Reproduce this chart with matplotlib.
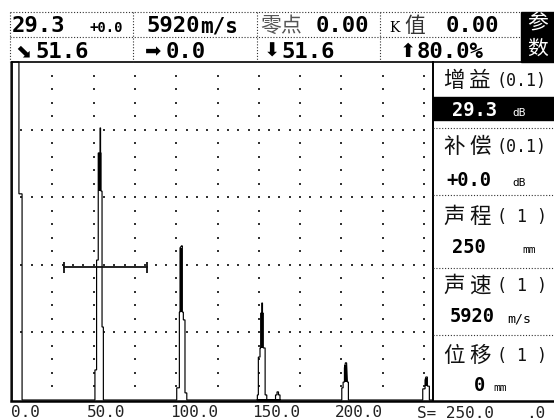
import numpy as np
import matplotlib.pyplot as plt
from matplotlib.patches import Rectangle

# A扫描波形: 声程(mm) / 波高(%) , 从屏幕读取
pulse_mm = [0, 0, 4.8, 4.8, 6.7, 6.7]
pulse_amp = [0, 100, 100, 61, 61, 0]

echo1_mm = [50.8, 50.8, 51.8, 51.8, 52.8, 52.8, 53.9, 53.9, 54.2, 54.2, 54.5, 54.5, 55.1, 55.1, 55.9, 55.9]
echo1_amp = [0, 8.9, 8.9, 41.4, 41.4, 73.1, 73.1, 80.5, 80.5, 73.1, 73.1, 61.8, 61.8, 21.6, 21.6, 0]

echo2_mm = [100.3, 100.3, 101.9, 101.9, 102.3, 102.3, 103.2, 103.7, 103.7, 104.3, 104.3, 105.3, 105.3, 106.4, 106.4]
echo2_amp = [0, 3.6, 3.6, 26.0, 26.0, 45.0, 45.6, 45.6, 26.0, 26.0, 23.7, 23.7, 2.1, 2.1, 0]

echo3_mm = [149.1, 149.1, 149.7, 149.7, 150.7, 150.7, 151.1, 151.1, 151.8, 151.8, 152.2, 152.2,
            152.7, 152.7, 153.8, 153.8, 154.8, 154.8]
echo3_amp = [0, 1.5, 1.5, 12.7, 12.7, 15.4, 15.4, 25.7, 25.7, 28.7, 28.7, 25.7,
             25.7, 15.4, 15.4, 1.5, 1.5, 0]

bump_mm = [160.1, 160.1, 161.0, 161.0, 161.9, 161.9, 162.8, 162.8]
bump_amp = [0, 1.5, 1.5, 2.4, 2.4, 1.5, 1.5, 0]

echo4_mm = [200.2, 200.2, 201.0, 201.0, 201.8, 201.8, 202.4, 203.1, 203.6, 203.6, 204.2, 204.2]
echo4_amp = [0, 3.6, 3.6, 5.3, 5.3, 9.5, 11.0, 11.0, 5.3, 5.3, 5.3, 0]

echo5_mm = [249.2, 249.2, 250.6, 250.6, 251.1, 252.0, 252.0, 253.2, 253.2]
echo5_amp = [0, 3.3, 3.3, 5.9, 6.8, 6.8, 4.1, 4.1, 0]

# 回波中间密集(涂黑)部分
core_left = [52.8, 102.3, 151.1, 201.8, 250.6]
core_right = [54.5, 103.7, 152.7, 203.6, 252.0]
core_low = [61.8, 26.0, 15.4, 5.3, 4.1]
core_high = [73.1, 45.0, 25.7, 10.5, 6.5]

range_end = 254.8
gate_start, gate_end, gate_level = 32.1, 82.3, 39.3

x_ticks = [0, 50, 100, 150, 200]
x_tick_labels = ['0.0', '50.0', '100.0', '150.0', '200.0']

W, H = 554, 420
fig = plt.figure(figsize=(W / 100, H / 100), dpi=100)


def box(x0, y0, x1, y1):
    return [x0 / W, 1 - y1 / H, (x1 - x0) / W, (y1 - y0) / H]


ax = fig.add_axes(box(11, 62, 432, 400))
ax.set_xlim(0, range_end)
ax.set_ylim(0, 100)
ax.set_xticks([])
ax.set_yticks([])
for s in ax.spines.values():
    s.set_visible(False)

# 点状网格
cx, cy = np.meshgrid(np.arange(25, 251, 25), np.arange(4, 100, 4))
ax.scatter(cx.ravel(), cy.ravel(), s=1.6, marker='s', color='#333', linewidths=0)
rx, ry = np.meshgrid(np.arange(6.25, 250.1, 6.25), [20, 40, 60, 80])
ax.scatter(rx.ravel(), ry.ravel(), s=1.6, marker='s', color='#333', linewidths=0)

trace_mm = pulse_mm + echo1_mm + echo2_mm + bump_mm + echo3_mm + echo4_mm + echo5_mm + [range_end]
trace_amp = pulse_amp + echo1_amp + echo2_amp + bump_amp + echo3_amp + echo4_amp + echo5_amp + [0]
ax.plot(trace_mm, trace_amp, color='black', lw=0.85, clip_on=False, solid_joinstyle='miter')
ax.bar(core_left, np.subtract(core_high, core_low), width=np.subtract(core_right, core_left),
       bottom=core_low, align='edge', color='black', linewidth=0)

# 闸门
ax.plot([gate_start, gate_end], [gate_level, gate_level], color='#111', lw=1.3)
ax.vlines([gate_start, gate_end], gate_level - 1.6, gate_level + 1.6, color='#111', lw=1.3)

mono = 'DejaVu Sans Mono'
cjk = ['Noto Sans CJK SC', 'DejaVu Sans']
for v, lab in zip(x_ticks, x_tick_labels):
    ax.text(max(v - 4, 0), -3.8, lab, ha='left', va='center',
            family=mono, fontsize=11.5, color='#222', clip_on=False)

# 外框与界面
ov = fig.add_axes([0, 0, 1, 1], zorder=5)
ov.set_xlim(0, W)
ov.set_ylim(H, 0)
ov.axis('off')
ov.patch.set_alpha(0)

ov.plot([12, 12], [62, 401], color='black', lw=1.3)
ov.plot([12, 554], [62, 62], color='black', lw=1.2)
ov.plot([432.5, 432.5], [62, 401], color='black', lw=1.4)
ov.plot([11, 554], [400.5, 400.5], color='black', lw=1.8)

dot = dict(color='#333', lw=0.8, ls=(0, (1, 1.6)))
ov.plot([10, 520], [12, 12], **dot)
ov.plot([10, 520], [37, 37], **dot)
for x in [10, 133, 257, 380]:
    ov.plot([x, x], [12, 62], **dot)
ov.add_patch(Rectangle((521, 12), 33, 50, color='black'))
ov.text(537.5, 24, '参', family=cjk, fontsize=15, color='white', ha='center', va='center')
ov.text(537.5, 49, '数', family=cjk, fontsize=15, color='white', ha='center', va='center')

big = dict(family=mono, fontweight='bold', fontsize=16, va='baseline', color='black')
ov.text(12, 32, '29.3', **big)
ov.text(90, 32, '+0.0', family=mono, fontweight='bold', fontsize=10, va='baseline')
ov.text(146, 32, '5920', **big)
ov.text(200, 32, 'm/s', family=mono, fontweight='bold', fontsize=15, va='baseline')
ov.text(260, 32, '零点', family=cjk, fontsize=15, va='baseline', color='#555')
ov.text(316, 32, '0.00', **big)
ov.text(389, 32, 'K', family='DejaVu Serif', fontsize=10, va='baseline')
ov.text(404, 32, '值', family=cjk, fontsize=15, va='baseline', color='#333')
ov.text(446, 32, '0.00', **big)

arrow = dict(family='DejaVu Sans', fontsize=14, va='baseline')
ov.text(15, 57, '⬊', **arrow)
ov.text(35, 58, '51.6', **big)
ov.text(145, 57, '➡', **arrow)
ov.text(166, 58, '0.0', **big)
ov.text(264, 57, '⬇', **arrow)
ov.text(281, 58, '51.6', **big)
ov.text(400, 57, '⬆', **arrow)
ov.text(417, 58, '80.0%', **big)

# 右侧参数栏
ov.add_patch(Rectangle((433, 97), 121, 23, color='black'))
for y in [128, 195, 268, 335]:
    ov.plot([433, 554], [y, y], **dot)

labels = [('增益', '(0.1)', 81), ('补偿', '(0.1)', 147), ('声程', '( 1 )', 217),
          ('声速', '( 1 )', 286), ('位移', '( 1 )', 356)]
for name, step, y in labels:
    ov.text(443, y, name[0], family=cjk, fontsize=15.5, va='center', color='#111')
    ov.text(469, y, name[1], family=cjk, fontsize=15.5, va='center', color='#111')
    ov.text(497, y, step, family=mono, fontsize=12, va='center', color='#111')

val = dict(family=mono, fontweight='bold', fontsize=13.5, va='baseline')
ov.text(452, 116, '29.3', color='white', **val)
ov.text(512, 116, 'dB', family=mono, fontsize=8, va='baseline', color='white')
ov.text(446, 186, '+0.0', **val)
ov.text(512, 186, 'dB', family=mono, fontsize=8, va='baseline')
ov.text(452, 253, '250', **val)
ov.text(522, 253, 'mm', family=mono, fontsize=8, va='baseline')
ov.text(450, 322, '5920', **val)
ov.text(507, 322, 'm/s', family=mono, fontsize=9.5, va='baseline')
ov.text(474, 391, '0', **val)
ov.text(493, 391, 'mm', family=mono, fontsize=8, va='baseline')

ov.text(417, 413, 'S= 250.0', family=mono, fontsize=11.5, va='center', color='#222')
ov.text(526, 413, '.0', family=mono, fontsize=11.5, va='center', color='#222')

fig.savefig('out.png', dpi=100, facecolor='white')
